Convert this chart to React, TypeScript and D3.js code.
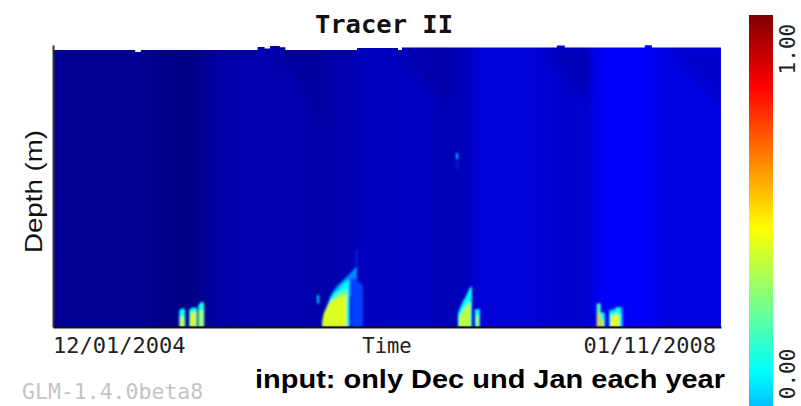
import * as d3 from "d3";
import { useEffect, useRef } from "react";

// time axis ends (dd/mm/yyyy in the labels)
const startDate = new Date(2004, 0, 12);
const endDate = new Date(2008, 10, 1);

// colour range of the plot (value at bottom / top of the jet map)
const vMin = -0.65;
const vMax = 1.105;
const jetStops = [0, 0.125, 0.375, 0.625, 0.875, 1];
const jetColors = ["#000080", "#0000ff", "#00ffff", "#ffff00", "#ff0000", "#800000"];
const cbTicks = [0, 1];

// background tracer level over time (decimal year, value)
const bgYears = [2004.03, 2004.6, 2004.88, 2005.03, 2005.2, 2005.4, 2005.8, 2005.95, 2006.12, 2006.25, 2006.72, 2006.82, 2006.98, 2007.1, 2007.5, 2007.62, 2007.86, 2007.99, 2008.3, 2008.42, 2008.833];
const bgValues = [-0.61, -0.612, -0.637, -0.635, -0.59, -0.57, -0.568, -0.58, -0.572, -0.545, -0.537, -0.555, -0.553, -0.5, -0.5, -0.515, -0.515, -0.44, -0.44, -0.48, -0.48];

// water surface height (m)
const surfYears = [2004.03, 2004.62, 2004.66, 2005.5, 2005.55, 2005.59, 2005.66, 2005.7, 2006.216, 2006.511, 2006.539, 2007.654, 2007.711, 2008.286, 2008.337, 2008.833];
const surfHeights = [29.47, 29.26, 29.47, 29.79, 29.63, 29.89, 29.75, 29.47, 29.68, 29.47, 29.73, 29.95, 29.74, 29.97, 29.74, 29.74];

// darker water sinking from the surface after each winter: [year, height]
const plumes: [number, number][][] = [
  [[2005.59, 29.7], [2005.95, 29.7], [2005.95, 21.0], [2005.878, 24.1], [2005.734, 27.3]],
  [[2006.511, 29.7], [2006.87, 29.7], [2006.87, 24.1], [2006.741, 25.2], [2006.597, 27.9]],
  [[2007.567, 29.7], [2007.891, 29.7], [2007.891, 24.1], [2007.747, 25.7], [2007.639, 28.4]],
  [[2008.452, 29.7], [2008.833, 29.7], [2008.833, 23.1], [2008.682, 26.3], [2008.538, 28.4]],
];

type Layer = { v: number; yr: number[]; top: number[]; base?: number };

const winter2004: Layer[] = [
  { v: 0.02, yr: [2004.936, 2004.95, 2004.979], top: [1.7, 2.0, 1.9] },
  { v: 0.02, yr: [2005.008, 2005.04, 2005.065], top: [1.9, 2.1, 2.0] },
  { v: 0.05, yr: [2005.073, 2005.095, 2005.116], top: [2.3, 2.7, 2.5] },
  { v: 0.35, yr: [2004.943, 2004.972], top: [1.0, 1.1] },
  { v: 0.38, yr: [2005.015, 2005.058], top: [1.5, 1.6] },
  { v: 0.33, yr: [2005.08, 2005.109], top: [1.7, 1.8] },
];

const winter2005: Layer[] = [
  { v: -0.34, yr: [2006.206, 2006.216], top: [8.2, 8.2] },
  { v: -0.2, yr: [2005.978, 2005.993, 2006.022, 2006.043, 2006.072, 2006.115, 2006.165, 2006.201, 2006.216], top: [0.6, 1.6, 3.2, 3.8, 4.4, 5.0, 5.7, 6.3, 6.3] },
  { v: -0.12, yr: [2005.978, 2006.0, 2006.03, 2006.07, 2006.11, 2006.15], top: [0.8, 2.2, 3.4, 4.0, 4.6, 5.2] },
  { v: -0.32, yr: [2006.165, 2006.201, 2006.23, 2006.259], top: [5.0, 5.2, 4.8, 4.4] },
  { v: -0.5, yr: [2006.158, 2006.176], top: [3.2, 3.2] },
  { v: 0.0, yr: [2005.964, 2005.978, 2006.0, 2006.022, 2006.05, 2006.094, 2006.13, 2006.151, 2006.158], top: [0.4, 1.5, 2.2, 3.0, 3.6, 4.2, 4.7, 5.0, 5.0] },
  { v: 0.2, yr: [2005.964, 2005.986, 2006.022, 2006.058, 2006.094, 2006.13, 2006.144], top: [0.3, 1.6, 2.7, 3.3, 3.7, 4.0, 4.0] },
  { v: 0.39, yr: [2005.968, 2005.978, 2006.007, 2006.043, 2006.094, 2006.13, 2006.137], top: [0.8, 1.5, 2.3, 2.9, 3.2, 3.4, 3.4] },
  { v: -0.05, yr: [2005.928, 2005.943], top: [3.4, 3.4], base: 2.5 },
];

const winter2006: Layer[] = [
  { v: -0.35, yr: [2006.935, 2006.945], top: [17.9, 17.9], base: 16.8 },
  { v: -0.05, yr: [2006.928, 2006.942], top: [18.5, 18.5], base: 17.9 },
  { v: 0.0, yr: [2006.942, 2006.956, 2006.978, 2007.0, 2007.021, 2007.036, 2007.043], top: [1.4, 2.0, 2.7, 3.3, 4.0, 4.3, 4.3] },
  { v: 0.33, yr: [2006.949, 2006.971, 2007.0, 2007.021, 2007.032], top: [1.0, 1.6, 2.2, 2.6, 2.6] },
  { v: 0.0, yr: [2007.064, 2007.1], top: [1.9, 1.9] },
  { v: 0.3, yr: [2007.071, 2007.093], top: [1.2, 1.2] },
];

const winter2007: Layer[] = [
  { v: 0.15, yr: [2007.941, 2007.97], top: [2.5, 2.5] },
  { v: 0.0, yr: [2007.97, 2008.0], top: [1.6, 1.5] },
  { v: 0.52, yr: [2007.945, 2007.967], top: [1.4, 1.4] },
  { v: 0.3, yr: [2007.974, 2007.994], top: [0.8, 0.8] },
  { v: -0.2, yr: [2008.028, 2008.128], top: [1.8, 2.2] },
  { v: 0.05, yr: [2008.035, 2008.057, 2008.064, 2008.078, 2008.106, 2008.121], top: [1.6, 1.8, 1.5, 2.1, 2.1, 1.2] },
  { v: 0.42, yr: [2008.043, 2008.057, 2008.064, 2008.078, 2008.1], top: [1.2, 1.3, 1.0, 1.4, 1.3] },
];

const toDate = (y: number) => {
  const yr = Math.floor(y);
  const a = +new Date(yr, 0, 1);
  const b = +new Date(yr + 1, 0, 1);
  return new Date(a + (y - yr) * (b - a));
};

const mono = "'DejaVu Sans Mono', monospace";

export default function App() {
  const xAxisRef = useRef<SVGGElement>(null);
  const yAxisRef = useRef<SVGGElement>(null);

  const x = d3.scaleTime().domain([startDate, endDate]).range([53, 721]);
  const y = d3.scaleLinear().domain([0, 30]).range([327, 45]);
  const color = d3
    .scaleLinear<string>()
    .domain(jetStops.map((t) => vMin + t * (vMax - vMin)))
    .range(jetColors)
    .interpolate(d3.interpolateRgb)
    .clamp(true);
  const cb = d3.scaleLinear().domain([vMin, vMax]).range([585, 15]);
  const fmt = d3.timeFormat("%d/%m/%Y");

  useEffect(() => {
    if (!xAxisRef.current || !yAxisRef.current) return;
    const gx = d3.select(xAxisRef.current);
    gx.call(d3.axisBottom(x).tickValues([]).tickSizeOuter(0));
    gx.select(".domain").attr("stroke", "#111").attr("stroke-width", 2);
    const gy = d3.select(yAxisRef.current);
    gy.call(d3.axisLeft(y).tickValues([]).tickSizeOuter(0));
    gy.select(".domain").attr("stroke", "#333").attr("stroke-width", 2);
  }, []);

  const surfArea = d3
    .area<number>()
    .x((_, i) => x(toDate(surfYears[i])))
    .y0(y(0))
    .y1((d) => y(d))
    .curve(d3.curveStepAfter);
  const surfPath = surfArea(surfHeights) ?? "";

  const x0 = x.range()[0];
  const xw = x.range()[1] - x.range()[0];

  const plumeLine = d3
    .line<[number, number]>()
    .x((p) => x(toDate(p[0])))
    .y((p) => y(p[1]))
    .curve(d3.curveLinearClosed);

  const layerPath = (l: Layer) =>
    d3
      .area<number>()
      .x((_, i) => x(toDate(l.yr[i])))
      .y0(y(l.base ?? 0))
      .y1((d) => y(d))(l.top) ?? "";

  const layers = [...winter2004, ...winter2005, ...winter2006, ...winter2007];

  return (
    <svg width={801} height={406} style={{ position: "absolute", left: 0, top: 0, background: "#fff" }}>
      <defs>
        <linearGradient id="bg" gradientUnits="userSpaceOnUse" x1={x0} x2={x0 + xw} y1={0} y2={0}>
          {bgYears.map((yr, i) => (
            <stop key={i} offset={(x(toDate(yr)) - x0) / xw} stopColor={color(bgValues[i])} />
          ))}
        </linearGradient>
        <linearGradient id="cbar" gradientUnits="userSpaceOnUse" x1={0} x2={0} y1={cb(vMin)} y2={cb(vMax)}>
          {jetStops.map((t, i) => (
            <stop key={i} offset={t} stopColor={jetColors[i]} />
          ))}
        </linearGradient>
        <clipPath id="water">
          <path d={surfPath} />
        </clipPath>
        <filter id="soft" x="-10%" y="-10%" width="120%" height="120%">
          <feGaussianBlur stdDeviation={0.8} />
        </filter>
        <filter id="haze" x="-30%" y="-30%" width="160%" height="160%">
          <feGaussianBlur stdDeviation={4} />
        </filter>
      </defs>

      <text x={384} y={33} textAnchor="middle" fontFamily={mono} fontWeight="bold" fontSize={25.5} fill="#111">
        Tracer II
      </text>

      <path d={surfPath} fill="url(#bg)" />
      <g clipPath="url(#water)">
        <g filter="url(#haze)">
          {plumes.map((p, i) => (
            <path key={i} d={plumeLine(p) ?? ""} fill="#000050" fillOpacity={0.16} />
          ))}
        </g>
        <g filter="url(#soft)">
          {layers.map((l, i) => (
            <path key={i} d={layerPath(l)} fill={color(l.v)} />
          ))}
        </g>
      </g>

      <g ref={xAxisRef} transform={`translate(0,${y(0)})`} />
      <g ref={yAxisRef} transform={`translate(${x0},0)`} />

      <text x={x0} y={353} fontFamily={mono} fontSize={22} fill="#222">
        {fmt(startDate)}
      </text>
      <text x={387} y={353} textAnchor="middle" fontFamily={mono} fontSize={20.5} fill="#222">
        Time
      </text>
      <text x={716} y={353} textAnchor="end" fontFamily={mono} fontSize={22} fill="#222">
        {fmt(endDate)}
      </text>

      <text
        transform="translate(42,191.5) rotate(-90)"
        textAnchor="middle"
        fontFamily="'Liberation Sans', Arial, sans-serif"
        fontSize={24}
        textLength={123}
        lengthAdjust="spacingAndGlyphs"
        fill="#111"
      >
        Depth (m)
      </text>

      <rect x={749} y={cb(vMax)} width={24} height={cb(vMin) - cb(vMax)} fill="url(#cbar)" />
      {cbTicks.map((t) => (
        <text
          key={t}
          transform={`translate(795,${cb(t)}) rotate(-90)`}
          textAnchor="middle"
          fontFamily={mono}
          fontSize={21}
          fill="#222"
        >
          {d3.format(".2f")(t)}
        </text>
      ))}

      <text x={22} y={399} fontFamily={mono} fontSize={21.5} fill="#c4c4c4">
        GLM-1.4.0beta8
      </text>
      <text
        x={255}
        y={388}
        fontFamily="'Liberation Sans', Arial, sans-serif"
        fontWeight="bold"
        fontSize={25}
        textLength={470}
        lengthAdjust="spacingAndGlyphs"
        fill="#000"
      >
        input: only Dec und Jan each year
      </text>
    </svg>
  );
}
